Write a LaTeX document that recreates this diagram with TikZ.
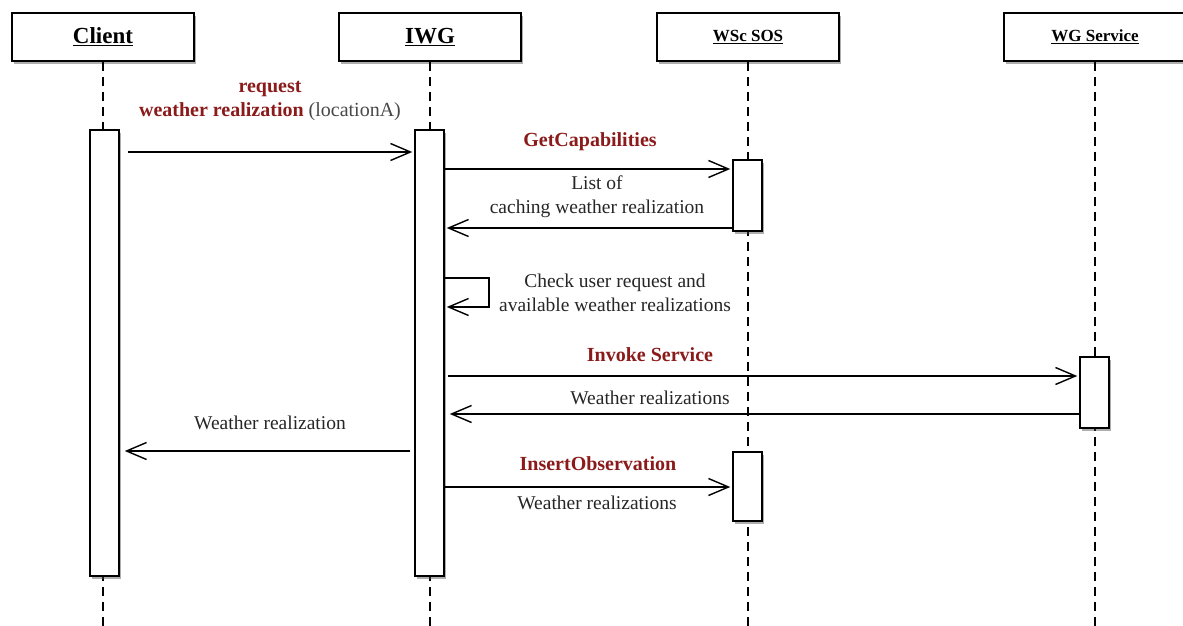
\documentclass[tikz,border=0pt]{standalone}
\usepackage{fontspec}
\setmainfont{Liberation Serif}
\usetikzlibrary{arrows.meta,shadows}
\definecolor{msgred}{HTML}{8B1A1A}
\definecolor{ink}{HTML}{262626}
\begin{document}
\begin{tikzpicture}[x=1pt,y=-1pt,
  actor/.style={draw=black, line width=1.5pt, fill=white, inner sep=0pt,
    minimum width=182pt, minimum height=48pt,
    drop shadow={shadow xshift=1.5pt, shadow yshift=-3pt, opacity=0.45, fill=black!70}},
  bar/.style={draw=black, line width=1.5pt, fill=white, inner sep=0pt,
    minimum width=29pt,
    drop shadow={shadow xshift=1.5pt, shadow yshift=-3pt, opacity=0.45, fill=black!70}},
  lifeline/.style={line width=1.3pt, dash pattern=on 9pt off 6pt},
  msg/.style={line width=1.4pt, -{Straight Barb[length=20pt,width=17pt,line width=1.4pt]}},
  bigname/.style={font=\bfseries\fontsize{23}{26}\selectfont},
  smallname/.style={font=\bfseries\fontsize{17}{20}\selectfont},
  calllabel/.style={inner sep=0pt, align=center, text=msgred, font=\bfseries\fontsize{20}{24}\selectfont},
  replylabel/.style={inner sep=0pt, align=center, text=ink, font=\fontsize{19.5}{24}\selectfont}
]
\useasboundingbox (0,0) rectangle (1183,626);
\clip (0,0) rectangle (1183,626);

% participants
\node[actor, bigname]   (client) at (103,37)  {\underline{Client}};
\node[actor, bigname]   (iwg)    at (430,37)  {\underline{IWG}};
\node[actor, smallname] (sos)    at (748,37)  {\underline{WSc SOS}};
\node[actor, smallname] (wg)     at (1095,37) {\underline{WG Service}};

% lifelines
\coordinate (bottom) at (0,630);
\foreach \p in {client,iwg,sos,wg}
  \draw[lifeline] (\p.south) -- (\p.south |- bottom);

% activation bars
\node[bar, minimum height=446pt] (cbar)  at (104.5,353)   {};
\node[bar, minimum height=446pt] (ibar)  at (429.5,353)   {};
\node[bar, minimum height=71pt]  (sbar1) at (747.5,195.5) {};
\node[bar, minimum height=71pt]  (wbar)  at (1094.5,392.5) {};
\node[bar, minimum height=69pt]  (sbar2) at (747.5,486.5) {};

% message levels
\coordinate (y1) at (0,152);
\coordinate (y2) at (0,169);
\coordinate (y3) at (0,228);
\coordinate (y4a) at (0,278);
\coordinate (y4b) at (0,307);
\coordinate (y5) at (0,376);
\coordinate (y6) at (0,414);
\coordinate (y7) at (0,451);
\coordinate (y8) at (0,487);
\coordinate (loopx) at (489,0);

% messages
\draw[msg] ([xshift=8pt]cbar.east |- y1) -- ([xshift=-2pt]ibar.west |- y1);
\draw[msg] (ibar.east |- y2) -- ([xshift=-2pt]sbar1.west |- y2);
\draw[msg] (sbar1.west |- y3) -- ([xshift=2pt]ibar.east |- y3);
\draw[msg] (ibar.east |- y4a) -- (loopx |- y4a) -- (loopx |- y4b) -- ([xshift=2pt]ibar.east |- y4b);
\draw[msg] ([xshift=3pt]ibar.east |- y5) -- ([xshift=-2pt]wbar.west |- y5);
\draw[msg] (wbar.west |- y6) -- ([xshift=5pt]ibar.east |- y6);
\draw[msg] ([xshift=-4pt]ibar.west |- y7) -- ([xshift=5pt]cbar.east |- y7);
\draw[msg] (ibar.east |- y8) -- ([xshift=-2pt]sbar2.west |- y8);

% message labels
\node[calllabel] (l1) at (270,101)
  {request\\weather realization {\mdseries\color{ink!85}(locationA)}};
\node[calllabel]  (l2) at (590,142) {GetCapabilities};
\node[replylabel] (l3) at (597,197) {List of\\caching weather realization};
\node[replylabel] (l4) at (615,293) {Check user request and\\available weather realizations};
\node[calllabel]  (l5) at (650,355) {Invoke Service};
\node[replylabel] (l6) at (650,398) {Weather realizations};
\node[replylabel] (l7) at (270,423) {Weather realization};
\node[calllabel]  (l8) at (598,464) {InsertObservation};
\node[replylabel] (l9) at (597,503) {Weather realizations};
\end{tikzpicture}
\end{document}
